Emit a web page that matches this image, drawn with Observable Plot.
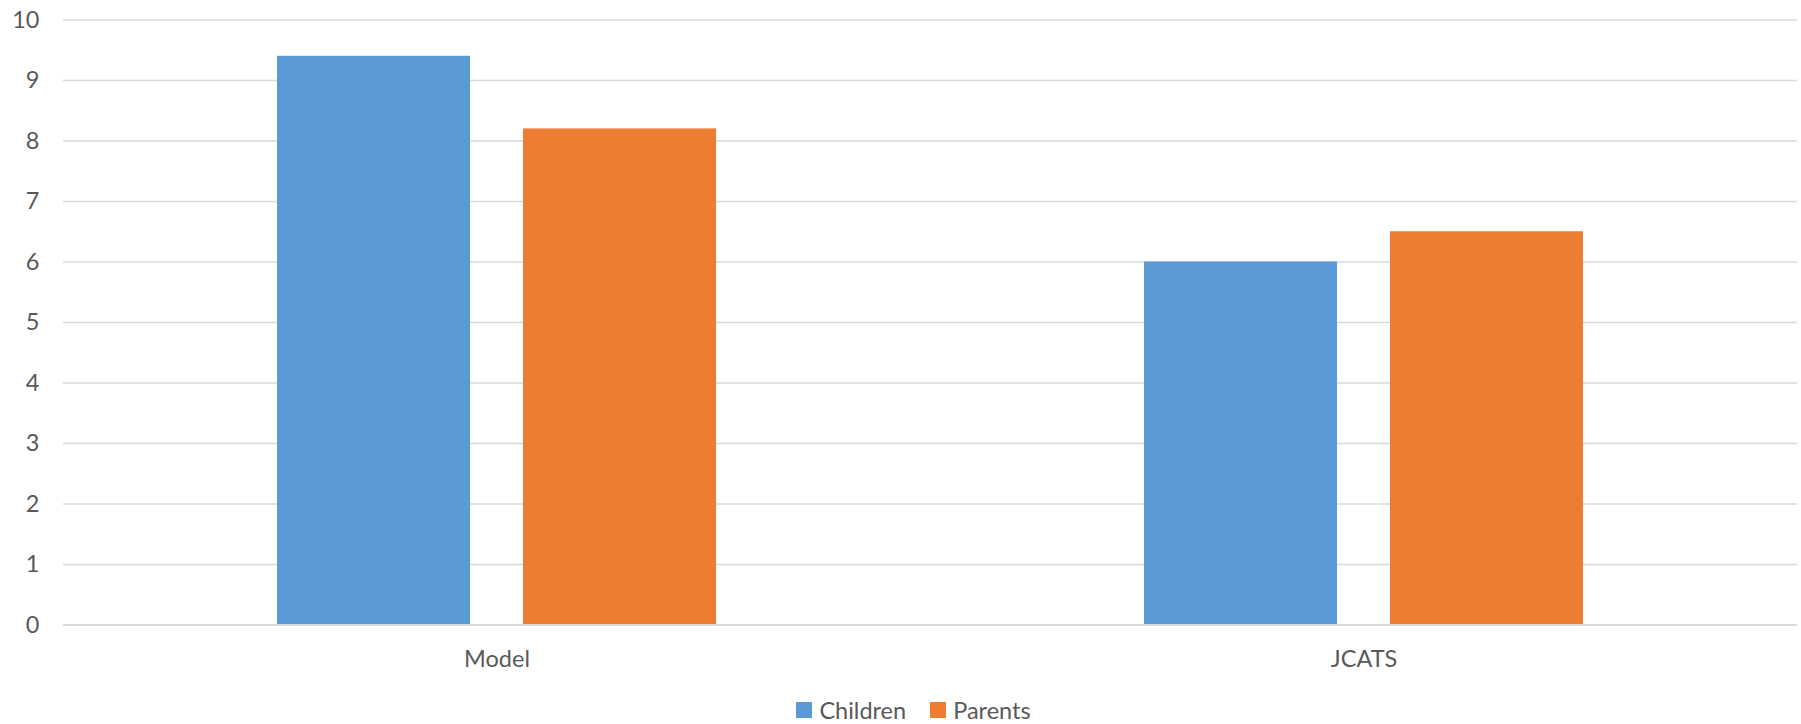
<!DOCTYPE html>
<html><head><meta charset="utf-8">
<script src="https://cdn.jsdelivr.net/npm/d3@7"></script>
<script src="https://cdn.jsdelivr.net/npm/@observablehq/plot@0.6"></script>
<style>
html,body{margin:0;padding:0;background:#fff;}
body{width:1801px;height:724px;overflow:hidden;font-family:Lato,"Open Sans",sans-serif;}
#legend{display:flex;justify-content:center;align-items:center;height:30px;margin-top:15px;padding-left:26px;font-size:23.5px;color:#595959;}
.item{display:flex;align-items:center;margin:0 12px;}
.sw{width:16px;height:16px;margin-right:7px;display:inline-block;}
</style></head><body><div id="chart"></div><div id="legend"></div>
<script>
const categories = ["Model", "JCATS"];
const series = ["Children", "Parents"];
const childrenValues = [9.4, 6.0];
const parentsValues = [8.2, 6.5];
const seriesColors = ["#5B9BD5", "#ED7D31"];
const yTicks = [0, 1, 2, 3, 4, 5, 6, 7, 8, 9, 10];

const data = categories.flatMap((c, i) => [
  {category: c, series: series[0], value: childrenValues[i]},
  {category: c, series: series[1], value: parentsValues[i]}
]);

const plot = Plot.plot({
  width: 1801, height: 680,
  marginTop: 19.5, marginBottom: 55.5, marginLeft: 63, marginRight: 4,
  style: {fontFamily: "Lato, 'Open Sans', sans-serif", fontSize: "23.5px", color: "#595959", background: "#fff", overflow: "visible"},
  fx: {domain: categories, paddingInner: 0, paddingOuter: 0, label: null, axis: "bottom", tickSize: 0, tickPadding: 25},
  x: {domain: series, paddingInner: 0.2154, paddingOuter: 0.869, axis: null},
  y: {domain: [0, 10], ticks: yTicks, tickSize: 0, tickPadding: 24, label: null},
  color: {domain: series, range: seriesColors},
  marks: [
    Plot.ruleY(yTicks, {stroke: "#d9d9d9", strokeWidth: 1.3}),
    Plot.barY(data, {fx: "category", x: "series", y: "value", fill: "series"}),
    Plot.ruleY([0], {stroke: "#d9d9d9", strokeWidth: 2})
  ]
});
document.getElementById("chart").appendChild(plot);

const legend = document.getElementById("legend");
series.forEach((s, i) => {
  const it = document.createElement("div"); it.className = "item";
  const sw = document.createElement("span"); sw.className = "sw"; sw.style.background = seriesColors[i];
  const t = document.createElement("span"); t.textContent = s;
  it.appendChild(sw); it.appendChild(t); legend.appendChild(it);
});
</script></body></html>
